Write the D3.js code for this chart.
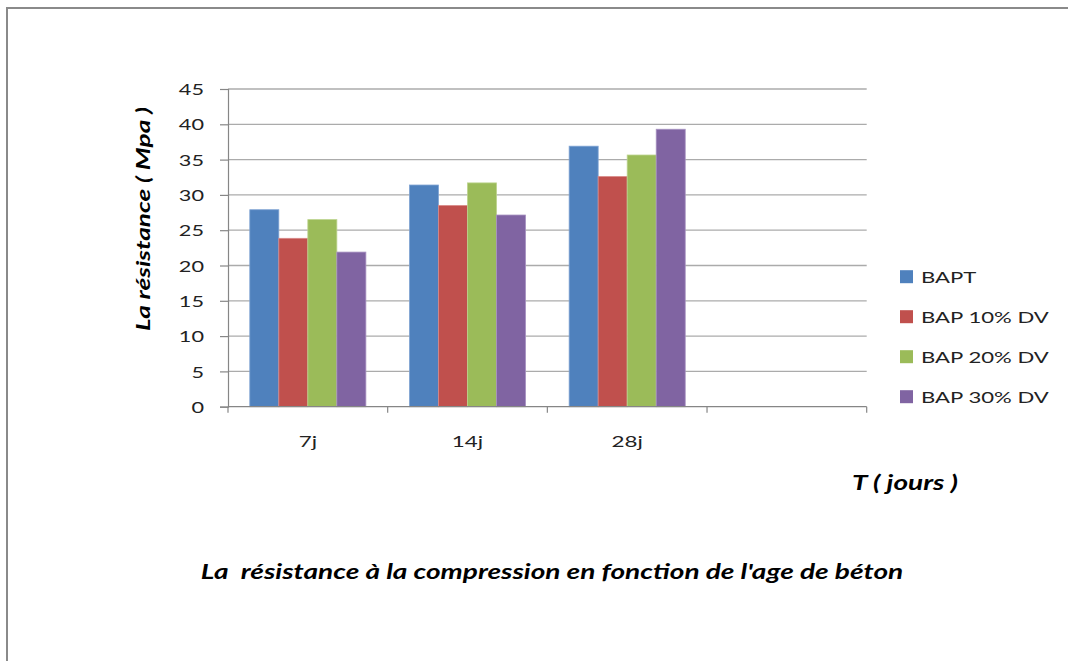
<!DOCTYPE html>
<html><head><meta charset="utf-8">
<script src="https://cdn.jsdelivr.net/npm/d3@7/dist/d3.min.js"></script>
<style>
html,body{margin:0;padding:0;background:#fff;}
svg text{white-space:pre;}
</style></head>
<body>
<svg id="chart" width="1068" height="661"></svg>
<script>
const categories = ["7j", "14j", "28j", ""];
const seriesNames = ["BAPT", "BAP 10% DV", "BAP 20% DV", "BAP 30% DV"];
const BAPT    = [27.9, 31.4, 36.9];
const BAP10DV = [23.85, 28.5, 32.6];
const BAP20DV = [26.5, 31.7, 35.65];
const BAP30DV = [21.9, 27.15, 39.3];
const seriesValues = [BAPT, BAP10DV, BAP20DV, BAP30DV];
const yTicks = [0, 5, 10, 15, 20, 25, 30, 35, 40, 45];
const colors = ["#4F81BD", "#C0504D", "#9BBB59", "#8064A2"];
const strokes = ["#7FA3D3", "#D98A88", "#BCD38D", "#A792C1"];

(function () {
const SX = 1.4; // horizontal stretch of the reference's glyphs
const FONT = "Lato, 'Open Sans', sans-serif";

const svg = d3.select("#chart");
const pLeft = 228, pRight = 866.7, pTop = 89, pBottom = 406.7;

// frame
svg.append("rect").attr("x", 7).attr("y", 8).attr("width", 1200).attr("height", 800)
  .attr("fill", "none").attr("stroke", "#8A8A8A").attr("stroke-width", 2);

const y = d3.scaleLinear().domain([0, 45]).range([pBottom, pTop]);
const x0 = d3.scaleBand().domain(categories).range([pLeft, pRight]).padding(0);
const inner = 21.8;
const x1 = d3.scaleBand().domain(seriesNames).range([inner, x0.bandwidth() - inner]).padding(0);

function stext(g, x, yy, str, opts) {
  const t = g.append("text")
    .attr("transform", `translate(${x},${yy})` + (opts.rotate ? ` rotate(${opts.rotate})` : "") + ` scale(${SX},1)`)
    .attr("font-family", FONT)
    .attr("font-size", opts.size)
    .attr("fill", opts.fill || "#000")
    .attr("text-anchor", opts.anchor || "start")
    .attr("dominant-baseline", opts.baseline || "alphabetic")
    .text(str);
  if (opts.bold) t.attr("font-weight", "bold");
  if (opts.italic) t.attr("font-style", "italic");
  return t;
}

// gridlines
svg.append("g").selectAll("line").data(yTicks.filter(d => d > 0)).join("line")
  .attr("x1", pLeft).attr("x2", pRight)
  .attr("y1", d => y(d)).attr("y2", d => y(d))
  .attr("stroke", "#ABABAB").attr("stroke-width", 1.3);

// y axis
const yAxis = svg.append("g").attr("transform", `translate(${pLeft},0)`)
  .call(d3.axisLeft(y).tickValues(yTicks).tickSize(8).tickFormat(""));
yAxis.select(".domain").attr("stroke", "#868686").attr("stroke-width", 1.2);
yAxis.selectAll(".tick line").attr("stroke", "#868686").attr("stroke-width", 1.2);
const ylab = svg.append("g");
yTicks.forEach(v => {
  stext(ylab, 204, y(v), String(v), {size: 15.5, anchor: "end", baseline: "central", fill: "#222"});
});

// bars
const gb = svg.append("g");
categories.forEach((c, ci) => {
  seriesValues.forEach((vals, si) => {
    const v = vals[ci];
    if (v == null) return;
    gb.append("rect")
      .attr("x", x0(c) + x1(seriesNames[si]))
      .attr("y", y(v))
      .attr("width", x1.bandwidth())
      .attr("height", y(0) - y(v))
      .attr("fill", colors[si])
      .attr("stroke", strokes[si]).attr("stroke-width", 0.8);
  });
});

// x axis
const xAxis = svg.append("g").attr("transform", `translate(0,${pBottom})`);
xAxis.append("line").attr("x1", pLeft).attr("x2", pRight).attr("y1", 0).attr("y2", 0)
  .attr("stroke", "#868686").attr("stroke-width", 1.3);
const bounds = categories.map(c => x0(c)).concat([x0(categories[categories.length - 1]) + x0.bandwidth()]);
xAxis.selectAll("line.tk").data(bounds).join("line").attr("class", "tk")
  .attr("x1", d => d).attr("x2", d => d).attr("y1", 0).attr("y2", 6)
  .attr("stroke", "#868686").attr("stroke-width", 1.2);
categories.forEach(c => {
  if (c) stext(svg, x0(c) + x0.bandwidth() / 2, 447, c, {size: 16, anchor: "middle", fill: "#222"});
});

// legend
const lg = svg.append("g");
seriesNames.forEach((s, i) => {
  const cy = 276.7 + i * 40;
  lg.append("rect").attr("x", 900).attr("y", cy - 6.5).attr("width", 13).attr("height", 13)
    .attr("fill", colors[i]);
  stext(lg, 921, cy, s, {size: 15.8, baseline: "central", fill: "#222"});
});

// axis titles
stext(svg, 905, 490, "T ( jours )", {size: 20, bold: true, italic: true, anchor: "middle"});
stext(svg, 150, 219, "La résistance ( Mpa )", {size: 18.7, bold: true, italic: true, anchor: "middle", rotate: -90});

// chart title
stext(svg, 552, 579, "La  résistance à la compression en fonction de l'age de béton", {size: 20, bold: true, italic: true, anchor: "middle"});
})();
</script>
</body></html>
